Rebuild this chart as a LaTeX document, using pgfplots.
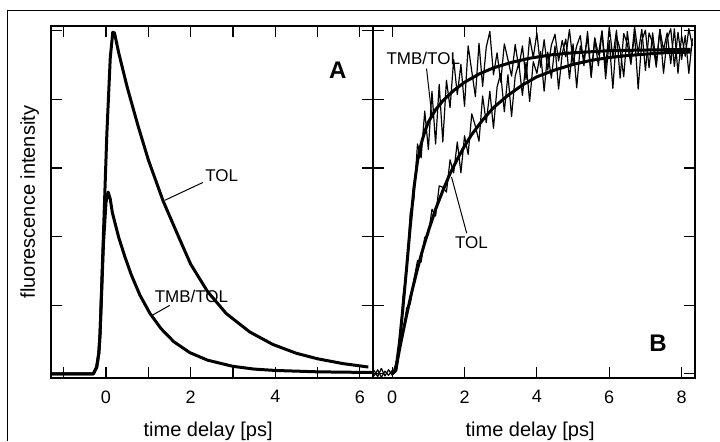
\documentclass[border=0pt]{standalone}
\usepackage{fontspec}
\setmainfont{Liberation Sans}
\usepackage{pgfplots}
\pgfplotsset{compat=1.18}

\pgfplotsset{
  panel/.style={
    scale only axis, width=161pt, height=176pt,
    anchor=north west, line width=0.8pt,
    tick align=inside,
    major tick length=5.5pt, minor tick length=5.5pt,
    every tick/.style={black, line width=0.6pt},
    ymin=-0.06, ymax=5.07, ytick={0,...,5}, yticklabels={},
    tick label style={font=\fontsize{9}{10}\selectfont},
    /pgf/number format/assume math mode=true,
    xticklabel style={yshift=-2.5pt},
    xlabel={time delay [ps]},
    xlabel style={font=\fontsize{10}{12}\selectfont,
      at={(axis description cs:0.488,-0.165)}, anchor=base},
  },
}
\tikzset{
  fitline/.style={black, line width=1.5pt, line join=round},
  rawline/.style={black, line width=0.6pt, line join=round},
  tag/.style={font=\fontsize{8.5}{9}\selectfont, inner sep=0pt},
}

\begin{document}
\begin{tikzpicture}
\useasboundingbox (0,0) rectangle (360pt,-220.5pt);
% outer frame
\draw[line width=0.5pt] (4pt,-220.5pt) -- (4pt,-5pt) -- (360pt,-5pt);

% ---- panel A: decays
\begin{axis}[panel, at={(25.5pt,-13pt)},
  xmin=-1.30, xmax=6.31,
  xtick={0,2,4,6}, minor xtick={-1,1,3,5},
  ylabel={fluorescence intensity},
  ylabel style={font=\fontsize{10}{12}\selectfont,
    at={(axis description cs:-0.05,0.5)}, anchor=base},
]
% TOL
\addplot[fitline] coordinates {
(-1.3,0) (-0.3,0) (-0.22,0.1) (-0.17,0.3) (-0.14,0.59) (-0.06,2.05)
(0.02,3.5) (0.1,4.6) (0.16,4.98) (0.2,4.97) (0.3,4.68) (0.5,4.18)
(0.75,3.63) (1.0,3.12) (1.35,2.52) (1.7,2.02) (2.0,1.6) (2.4,1.2)
(2.84,0.88) (3.4,0.61) (3.94,0.43) (4.5,0.3) (5.0,0.22) (5.6,0.15) (6.2,0.10)
};
% TMB/TOL
\addplot[fitline] coordinates {
(-1.3,0) (-0.3,0) (-0.22,0.1) (-0.17,0.3) (-0.14,0.59) (-0.06,1.9)
(0.0,2.5) (0.05,2.65) (0.1,2.55) (0.15,2.35) (0.3,1.99) (0.45,1.70)
(0.6,1.44) (0.8,1.15) (1.04,0.88) (1.3,0.66) (1.6,0.47) (1.98,0.31)
(2.4,0.2) (3.0,0.11) (3.5,0.07) (4.0,0.05) (5.0,0.03) (6.31,0.02)
};
\draw[line width=0.5pt] (axis cs:1.39,2.53) -- (axis cs:2.29,2.79);
\node[tag, anchor=west] at (axis cs:2.33,2.89) {TOL};
\draw[line width=0.5pt] (axis cs:1.08,0.85) -- (axis cs:1.51,1.0);
\node[tag] at (axis cs:2.02,1.13) {TMB/TOL};
\node[font=\fontsize{12}{14}\selectfont\bfseries, inner sep=0pt] at (axis cs:5.48,4.43) {A};
\end{axis}

% ---- panel B: rises
\begin{axis}[panel, at={(186.5pt,-13pt)},
  xmin=-0.53, xmax=8.37,
  xtick={0,2,4,6,8},
]
% TMB/TOL measured
\addplot[rawline] coordinates {
(-0.5,0.05) (-0.4,-0.04) (-0.3,0.08) (-0.2,-0.03) (-0.1,0.06) (0.0,-0.02)
(0.1,0.15) (0.2,0.35) (0.3,1.13) (0.4,1.50) (0.5,2.35) (0.6,2.55)
(0.7,3.35) (0.8,3.15) (0.9,3.83) (1.0,3.27) (1.1,4.12) (1.2,3.35)
(1.3,4.22) (1.4,3.38) (1.5,4.28) (1.6,3.88) (1.7,4.58) (1.8,4.07)
(1.9,4.51) (2.0,3.90) (2.1,4.78) (2.2,4.41) (2.3,4.04) (2.4,4.82)
(2.5,4.19) (2.6,4.76) (2.7,4.99) (2.8,4.36) (2.9,4.68) (3.0,4.25)
(3.1,4.81) (3.2,4.58) (3.3,4.34) (3.4,4.80) (3.5,4.46) (3.6,4.78)
(3.7,4.29) (3.8,4.90) (3.9,4.61) (4.0,4.97) (4.1,4.47) (4.2,4.87)
(4.3,4.43) (4.4,4.79) (4.5,4.95) (4.6,4.56) (4.7,4.86) (4.8,4.62)
(4.9,5.02) (5.0,4.53) (5.1,4.78) (5.2,4.93) (5.3,4.49) (5.4,4.99)
(5.5,4.35) (5.6,4.90) (5.7,4.65) (5.8,5.00) (5.9,4.45) (6.0,5.06)
(6.1,4.61) (6.2,5.01) (6.3,4.31) (6.4,4.96) (6.5,4.81) (6.6,4.51)
(6.7,5.06) (6.8,4.67) (6.9,5.02) (7.0,4.42) (7.1,4.97) (7.2,4.82)
(7.3,4.47) (7.4,5.02) (7.5,4.72) (7.6,4.97) (7.7,4.52) (7.8,5.03)
(7.9,4.38) (8.0,4.93) (8.1,4.63) (8.2,5.03) (8.3,4.78)
};
% TOL measured
\addplot[rawline] coordinates {
(-0.5,-0.03) (-0.4,0.06) (-0.3,-0.05) (-0.2,0.04) (-0.1,-0.02) (0.0,0.05)
(0.1,0.03) (0.2,0.43) (0.3,0.56) (0.4,0.96) (0.5,1.02) (0.6,1.37)
(0.7,1.65) (0.8,1.63) (0.9,1.99) (1.0,2.03) (1.1,2.40) (1.2,2.30)
(1.3,2.74) (1.4,2.72) (1.5,2.65) (1.6,3.12) (1.7,2.93) (1.8,3.38)
(1.9,2.93) (2.0,3.47) (2.1,3.20) (2.2,3.79) (2.3,3.61) (2.4,3.39)
(2.5,4.05) (2.6,3.66) (2.7,4.12) (2.8,3.58) (2.9,4.18) (3.0,4.38)
(3.1,3.82) (3.2,4.36) (3.3,3.75) (3.4,4.34) (3.5,4.53) (3.6,4.06)
(3.7,4.54) (3.8,3.97) (3.9,4.55) (4.0,4.38) (4.1,4.70) (4.2,4.12)
(4.3,4.69) (4.4,4.31) (4.5,4.78) (4.6,4.15) (4.7,4.67) (4.8,4.88)
(4.9,4.30) (5.0,4.81) (5.1,4.17) (5.2,4.78) (5.3,4.59) (5.4,4.91)
(5.5,4.32) (5.6,4.88) (5.7,4.49) (5.8,4.99) (5.9,4.30) (6.0,4.86)
(6.1,4.16) (6.2,4.92) (6.3,4.73) (6.4,4.33) (6.5,4.99) (6.6,4.54)
(6.7,4.95) (6.8,4.15) (6.9,4.86) (7.0,5.01) (7.1,4.46) (7.2,4.97)
(7.3,4.52) (7.4,5.02) (7.5,4.38) (7.6,4.88) (7.7,5.03) (7.8,4.48)
(7.9,4.98) (8.0,4.58) (8.1,4.93) (8.2,4.38) (8.3,4.89)
};
% TMB/TOL fit
\addplot[fitline] coordinates {
(0.0,0.0) (0.1,0.05) (0.2,0.45) (0.3,0.98) (0.4,1.55) (0.5,2.15)
(0.6,2.7) (0.7,3.1) (0.8,3.35) (0.9,3.53) (1.0,3.67) (1.2,3.85)
(1.4,3.98) (1.7,4.13) (2.0,4.25) (2.4,4.37) (2.8,4.46) (3.3,4.54)
(3.8,4.60) (4.4,4.65) (5.0,4.68) (6.0,4.71) (7.0,4.72) (8.25,4.73)
};
% TOL fit
\addplot[fitline] coordinates {
(0.0,0.0) (0.1,0.06) (0.2,0.35) (0.3,0.61) (0.4,0.86) (0.5,1.10)
(0.6,1.32) (0.7,1.53) (0.8,1.73) (0.9,1.91) (1.0,2.08) (1.2,2.40)
(1.4,2.67) (1.6,2.92) (1.8,3.13) (2.0,3.32) (2.2,3.49) (2.5,3.70)
(2.8,3.88) (3.2,4.06) (3.6,4.21) (4.0,4.33) (4.5,4.43) (5.0,4.51)
(5.5,4.57) (6.0,4.61) (6.5,4.64) (7.0,4.66) (7.5,4.68) (8.25,4.69)
};
\draw[line width=0.5pt] (axis cs:0.95,4.45) -- (axis cs:1.09,3.79);
\node[tag] at (axis cs:0.86,4.6) {TMB/TOL};
\draw[line width=0.5pt] (axis cs:2.06,2.05) -- (axis cs:1.64,2.87);
\node[tag] at (axis cs:2.19,1.92) {TOL};
\node[font=\fontsize{12}{14}\selectfont\bfseries, inner sep=0pt] at (axis cs:7.35,0.44) {B};
\end{axis}
\end{tikzpicture}
\end{document}
